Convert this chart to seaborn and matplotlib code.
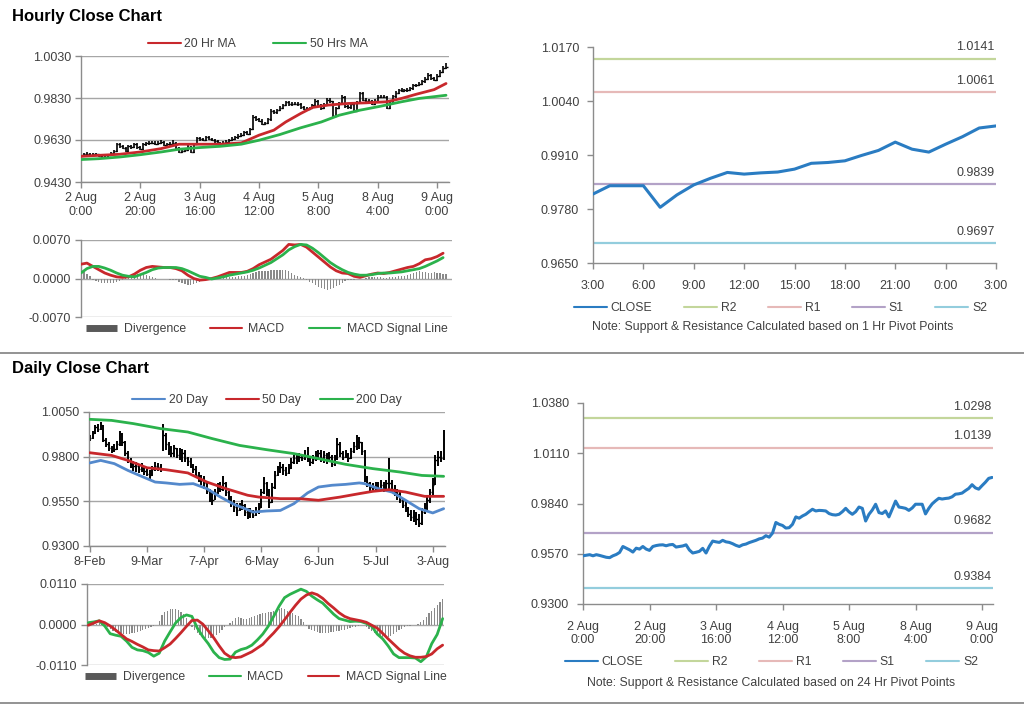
import matplotlib
matplotlib.use("Agg")
import matplotlib.pyplot as plt
import matplotlib.transforms as mtransforms
from matplotlib.lines import Line2D
from matplotlib.ticker import FormatStrFormatter
import seaborn as sns
import numpy as np

# ---------------- data ----------------
# hourly closes, 2 Aug 0:00 .. 9 Aug 3:00
hourly_close = [
    0.9559, 0.9562, 0.9565, 0.9559, 0.9565, 0.9561, 0.9556, 0.9551, 0.9549, 0.9559,
    0.9566, 0.9577, 0.9609, 0.9600, 0.9591, 0.9579, 0.9600, 0.9595, 0.9609, 0.9595,
    0.9588, 0.9609, 0.9614, 0.9617, 0.9618, 0.9613, 0.9618, 0.9620, 0.9606, 0.9609,
    0.9612, 0.9618, 0.9590, 0.9574, 0.9578, 0.9583, 0.9599, 0.9574, 0.9610, 0.9638,
    0.9634, 0.9631, 0.9642, 0.9634, 0.9631, 0.9624, 0.9615, 0.9609, 0.9618, 0.9622,
    0.9630, 0.9636, 0.9642, 0.9650, 0.9654, 0.9667, 0.9659, 0.9681, 0.9738, 0.9728,
    0.9722, 0.9708, 0.9710, 0.9728, 0.9768, 0.9761, 0.9773, 0.9782, 0.9796, 0.9809,
    0.9800, 0.9803, 0.9802, 0.9800, 0.9786, 0.9780, 0.9778, 0.9782, 0.9796, 0.9814,
    0.9795, 0.9782, 0.9796, 0.9821, 0.9814, 0.9746, 0.9782, 0.9805, 0.9836, 0.9791,
    0.9786, 0.9800, 0.9768, 0.9810, 0.9853, 0.9821, 0.9818, 0.9814, 0.9803, 0.9816,
    0.9836, 0.9836, 0.9836, 0.9784, 0.9814, 0.9838, 0.9854, 0.9868, 0.9864, 0.9867,
    0.9869, 0.9876, 0.9890, 0.9892, 0.9896, 0.9909, 0.9921, 0.9941, 0.9924, 0.9917,
    0.9936, 0.9954, 0.9975, 0.9980]
hourly_high = [
    0.9566, 0.9568, 0.9571, 0.9569, 0.9570, 0.9569, 0.9565, 0.9561, 0.9558, 0.9564,
    0.9572, 0.9583, 0.9616, 0.9615, 0.9606, 0.9597, 0.9606, 0.9607, 0.9615, 0.9614,
    0.9600, 0.9614, 0.9620, 0.9623, 0.9625, 0.9623, 0.9624, 0.9628, 0.9624, 0.9615,
    0.9619, 0.9628, 0.9622, 0.9595, 0.9586, 0.9590, 0.9605, 0.9603, 0.9617, 0.9646,
    0.9645, 0.9640, 0.9648, 0.9647, 0.9640, 0.9636, 0.9629, 0.9620, 0.9624, 0.9628,
    0.9636, 0.9643, 0.9649, 0.9657, 0.9662, 0.9674, 0.9672, 0.9688, 0.9748, 0.9746,
    0.9735, 0.9728, 0.9718, 0.9735, 0.9776, 0.9775, 0.9780, 0.9790, 0.9803, 0.9816,
    0.9815, 0.9811, 0.9810, 0.9809, 0.9805, 0.9792, 0.9786, 0.9789, 0.9803, 0.9825,
    0.9820, 0.9803, 0.9804, 0.9830, 0.9828, 0.9818, 0.9789, 0.9812, 0.9845, 0.9840,
    0.9798, 0.9808, 0.9806, 0.9817, 0.9860, 0.9857, 0.9828, 0.9825, 0.9820, 0.9823,
    0.9843, 0.9843, 0.9844, 0.9840, 0.9821, 0.9845, 0.9861, 0.9875, 0.9876, 0.9874,
    0.9876, 0.9884, 0.9898, 0.9899, 0.9904, 0.9916, 0.9928, 0.9949, 0.9946, 0.9930,
    0.9943, 0.9961, 0.9983, 0.9995]
hourly_low = [
    0.9552, 0.9553, 0.9556, 0.9553, 0.9554, 0.9555, 0.9550, 0.9546, 0.9543, 0.9545,
    0.9553, 0.9561, 0.9572, 0.9593, 0.9585, 0.9573, 0.9574, 0.9589, 0.9590, 0.9589,
    0.9582, 0.9583, 0.9603, 0.9608, 0.9610, 0.9607, 0.9608, 0.9612, 0.9600, 0.9600,
    0.9603, 0.9606, 0.9584, 0.9568, 0.9568, 0.9572, 0.9578, 0.9566, 0.9570, 0.9605,
    0.9627, 0.9624, 0.9625, 0.9628, 0.9625, 0.9618, 0.9609, 0.9603, 0.9604, 0.9612,
    0.9616, 0.9624, 0.9630, 0.9636, 0.9644, 0.9648, 0.9652, 0.9653, 0.9676, 0.9720,
    0.9714, 0.9700, 0.9700, 0.9704, 0.9722, 0.9754, 0.9755, 0.9766, 0.9776, 0.9790,
    0.9794, 0.9794, 0.9795, 0.9793, 0.9780, 0.9773, 0.9771, 0.9772, 0.9776, 0.9790,
    0.9788, 0.9775, 0.9776, 0.9790, 0.9806, 0.9738, 0.9740, 0.9776, 0.9798, 0.9784,
    0.9778, 0.9780, 0.9762, 0.9762, 0.9804, 0.9814, 0.9811, 0.9807, 0.9796, 0.9797,
    0.9810, 0.9829, 0.9828, 0.9776, 0.9778, 0.9808, 0.9832, 0.9848, 0.9857, 0.9858,
    0.9860, 0.9862, 0.9870, 0.9883, 0.9885, 0.9890, 0.9902, 0.9915, 0.9917, 0.9910,
    0.9911, 0.9930, 0.9948, 0.9970]
hourly_ticks = ['2 Aug\n0:00', '2 Aug\n20:00', '3 Aug\n16:00', '4 Aug\n12:00',
                '5 Aug\n8:00', '8 Aug\n4:00', '9 Aug\n0:00']

ma20_hx = [0, 6, 13, 20, 27, 33, 40, 47, 54, 60, 65, 69, 74, 78, 83, 90, 96, 103, 108, 113, 119, 123]
ma20_hy = [0.9552, 0.9557, 0.9562, 0.9573, 0.9589, 0.9610, 0.9610, 0.9610, 0.9616, 0.9653, 0.9677,
           0.9716, 0.9756, 0.9785, 0.9796, 0.9804, 0.9807, 0.9812, 0.9828, 0.9848, 0.9870, 0.9899]
ma50_hx = [0, 6, 13, 20, 27, 33, 40, 47, 54, 60, 67, 74, 81, 87, 94, 101, 108, 114, 123]
ma50_hy = [0.9537, 0.9541, 0.9549, 0.9560, 0.9573, 0.9586, 0.9594, 0.9600, 0.9610, 0.9629,
           0.9656, 0.9688, 0.9716, 0.9748, 0.9772, 0.9791, 0.9812, 0.9828, 0.9843]

# hourly MACD / signal every 2 hours
hourly_macd = [
    0.0026, 0.0028, 0.0022, 0.0016, 0.0010, 0.0006, 0.0003, 0.0002, 0.0003, 0.0008,
    0.0015, 0.0020, 0.0022, 0.0021, 0.0020, 0.0020, 0.0018, 0.0014, 0.0006, 0.0000,
    -0.0003, -0.0002, 0.0000, 0.0003, 0.0007, 0.0011, 0.0011, 0.0011, 0.0013, 0.0018,
    0.0025, 0.0030, 0.0035, 0.0043, 0.0051, 0.0062, 0.0061, 0.0062, 0.0057, 0.0048,
    0.0039, 0.0030, 0.0021, 0.0014, 0.0010, 0.0009, 0.0004, 0.0002, 0.0005, 0.0008,
    0.0010, 0.0009, 0.0011, 0.0014, 0.0017, 0.0020, 0.0022, 0.0027, 0.0034, 0.0036,
    0.0040, 0.0046]
hourly_signal = [
    0.0010, 0.0018, 0.0022, 0.0022, 0.0019, 0.0015, 0.0010, 0.0006, 0.0004, 0.0003,
    0.0007, 0.0011, 0.0016, 0.0019, 0.0020, 0.0020, 0.0020, 0.0018, 0.0014, 0.0009,
    0.0004, 0.0002, -0.0001, 0.0001, 0.0003, 0.0006, 0.0008, 0.0010, 0.0012, 0.0015,
    0.0019, 0.0024, 0.0029, 0.0036, 0.0043, 0.0052, 0.0058, 0.0062, 0.0061, 0.0055,
    0.0047, 0.0038, 0.0029, 0.0022, 0.0016, 0.0011, 0.0008, 0.0006, 0.0006, 0.0007,
    0.0009, 0.0010, 0.0010, 0.0011, 0.0012, 0.0014, 0.0016, 0.0018, 0.0022, 0.0027,
    0.0032, 0.0038]
hourly_div = [
    0.0010, 0.0012, 0.0008, 0.0004,
    -0.0002, -0.0004, -0.0006, -0.0008, -0.0009, -0.0009, -0.0009, -0.0008, -0.0006, -0.0004, -0.0002,
    0.0001, 0.0003, 0.0005, 0.0007, 0.0008, 0.0009, 0.0008, 0.0007, 0.0005, 0.0002,
    0.0001, 0.0000, -0.0001, -0.0001, -0.0001, -0.0002, -0.0002, -0.0003,
    -0.0006, -0.0008, -0.0010, -0.0011, -0.0011, -0.0010, -0.0009, -0.0006, -0.0003,
    -0.0001, 0.0000, 0.0001, 0.0002, 0.0003, 0.0003, 0.0004, 0.0003, 0.0003,
    0.0002, 0.0003, 0.0004, 0.0005, 0.0004, 0.0006, 0.0008, 0.0010,
    0.0012, 0.0013, 0.0014, 0.0014, 0.0014, 0.0015, 0.0015, 0.0015, 0.0016, 0.0016, 0.0015, 0.0013, 0.0010,
    0.0006, 0.0004, 0.0002, 0.0001,
    -0.0003, -0.0006, -0.0009, -0.0012, -0.0015, -0.0017, -0.0019, -0.0020, -0.0019, -0.0017,
    -0.0014, -0.0011, -0.0008, -0.0005, -0.0003,
    -0.0002, -0.0002, -0.0001, -0.0001, 0.0000, 0.0001,
    0.0002, 0.0003, 0.0002, 0.0003, 0.0002, 0.0001, 0.0001, 0.0002, 0.0002, 0.0003, 0.0004, 0.0004, 0.0005,
    0.0006, 0.0008, 0.0010, 0.0012, 0.0013, 0.0012, 0.0011, 0.0010, 0.0010, 0.0011, 0.0010, 0.0010,
    0.0009, 0.0009]

last24_ticks = ['3:00', '6:00', '9:00', '12:00', '15:00', '18:00', '21:00', '0:00', '3:00']
pivots_1h = [('R2', 1.0141), ('R1', 1.0061), ('S1', 0.9839), ('S2', 0.9697)]
pivots_24h = [('R2', 1.0298), ('R1', 1.0139), ('S1', 0.9682), ('S2', 0.9384)]

# daily bars, 8 Feb .. 9 Aug
daily_close = [
    0.9905, 0.9930, 0.9965, 0.9955, 0.9980, 0.9895, 0.9870, 0.9850, 0.9840, 0.9845,
    0.9870, 0.9925, 0.9880, 0.9820, 0.9780, 0.9760, 0.9750, 0.9745, 0.9730, 0.9740,
    0.9720, 0.9705, 0.9695, 0.9730, 0.9750, 0.9740, 0.9730, 0.9920, 0.9870, 0.9840,
    0.9820, 0.9850, 0.9810, 0.9835, 0.9820, 0.9790, 0.9775, 0.9745, 0.9730, 0.9700,
    0.9680, 0.9670, 0.9650, 0.9610, 0.9570, 0.9560, 0.9600, 0.9630, 0.9620, 0.9650,
    0.9600, 0.9570, 0.9540, 0.9520, 0.9500, 0.9515, 0.9530, 0.9490, 0.9470, 0.9490,
    0.9475, 0.9495, 0.9510, 0.9600, 0.9650, 0.9610, 0.9545, 0.9630, 0.9700, 0.9720,
    0.9740, 0.9725, 0.9710, 0.9735, 0.9770, 0.9790, 0.9780, 0.9800, 0.9795, 0.9805,
    0.9790, 0.9770, 0.9785, 0.9800, 0.9820, 0.9790, 0.9810, 0.9780, 0.9800, 0.9760,
    0.9790, 0.9870, 0.9820, 0.9800, 0.9810, 0.9790, 0.9830, 0.9860, 0.9890, 0.9880,
    0.9830, 0.9680, 0.9650, 0.9630, 0.9625, 0.9640, 0.9625, 0.9640, 0.9620, 0.9650,
    0.9650, 0.9620, 0.9600, 0.9590, 0.9560, 0.9530, 0.9510, 0.9480, 0.9460, 0.9470,
    0.9450, 0.9430, 0.9490, 0.9510, 0.9560, 0.9600, 0.9640, 0.9780, 0.9800, 0.9790,
    0.9900]
daily_high = [
    0.9920, 0.9945, 0.9975, 0.9985, 0.9992, 0.9975, 0.9905, 0.9880, 0.9860, 0.9870,
    0.9885, 0.9945, 0.9930, 0.9890, 0.9830, 0.9790, 0.9775, 0.9770, 0.9760, 0.9765,
    0.9750, 0.9740, 0.9725, 0.9750, 0.9770, 0.9765, 0.9760, 0.9985, 0.9930, 0.9880,
    0.9860, 0.9865, 0.9850, 0.9850, 0.9845, 0.9840, 0.9800, 0.9790, 0.9760, 0.9745,
    0.9715, 0.9700, 0.9690, 0.9660, 0.9620, 0.9600, 0.9620, 0.9650, 0.9660, 0.9690,
    0.9660, 0.9610, 0.9580, 0.9560, 0.9540, 0.9540, 0.9560, 0.9535, 0.9510, 0.9515,
    0.9500, 0.9520, 0.9540, 0.9620, 0.9685, 0.9660, 0.9620, 0.9650, 0.9720, 0.9750,
    0.9770, 0.9760, 0.9740, 0.9760, 0.9790, 0.9810, 0.9815, 0.9820, 0.9815, 0.9835,
    0.9855, 0.9800, 0.9810, 0.9830, 0.9840, 0.9835, 0.9830, 0.9820, 0.9825, 0.9810,
    0.9810, 0.9905, 0.9880, 0.9830, 0.9840, 0.9820, 0.9850, 0.9880, 0.9920, 0.9910,
    0.9880, 0.9840, 0.9690, 0.9660, 0.9650, 0.9660, 0.9660, 0.9670, 0.9660, 0.9670,
    0.9790, 0.9670, 0.9640, 0.9620, 0.9600, 0.9570, 0.9550, 0.9520, 0.9500, 0.9500,
    0.9490, 0.9480, 0.9510, 0.9540, 0.9580, 0.9620, 0.9680, 0.9810, 0.9830, 0.9830,
    0.9948]
daily_low = [
    0.9885, 0.9900, 0.9925, 0.9940, 0.9950, 0.9880, 0.9855, 0.9830, 0.9820, 0.9828,
    0.9835, 0.9860, 0.9860, 0.9805, 0.9765, 0.9735, 0.9720, 0.9715, 0.9710, 0.9715,
    0.9700, 0.9690, 0.9675, 0.9690, 0.9720, 0.9720, 0.9715, 0.9830, 0.9840, 0.9810,
    0.9800, 0.9800, 0.9790, 0.9780, 0.9770, 0.9770, 0.9745, 0.9735, 0.9710, 0.9690,
    0.9660, 0.9640, 0.9620, 0.9590, 0.9545, 0.9530, 0.9555, 0.9590, 0.9600, 0.9610,
    0.9580, 0.9550, 0.9520, 0.9490, 0.9470, 0.9495, 0.9500, 0.9470, 0.9450, 0.9455,
    0.9455, 0.9470, 0.9480, 0.9510, 0.9590, 0.9580, 0.9515, 0.9540, 0.9620, 0.9690,
    0.9710, 0.9700, 0.9690, 0.9705, 0.9730, 0.9760, 0.9760, 0.9770, 0.9775, 0.9780,
    0.9770, 0.9750, 0.9760, 0.9775, 0.9780, 0.9770, 0.9765, 0.9760, 0.9770, 0.9740,
    0.9750, 0.9780, 0.9800, 0.9780, 0.9790, 0.9770, 0.9785, 0.9820, 0.9840, 0.9845,
    0.9810, 0.9660, 0.9630, 0.9610, 0.9605, 0.9615, 0.9605, 0.9610, 0.9600, 0.9610,
    0.9620, 0.9600, 0.9580, 0.9560, 0.9540, 0.9510, 0.9490, 0.9460, 0.9440, 0.9435,
    0.9420, 0.9405, 0.9420, 0.9480, 0.9500, 0.9540, 0.9580, 0.9640, 0.9750, 0.9770,
    0.9780]
daily_ticks = ['8-Feb', '9-Mar', '7-Apr', '6-May', '6-Jun', '5-Jul', '3-Aug']

ma20_dx = [0, 4, 9, 14, 19, 24, 28, 33, 38, 43, 48, 53, 58, 60, 65, 70, 75, 80, 84, 89,
           94, 99, 101, 106, 111, 116, 121, 126, 130]
ma20_dy = [0.9765, 0.9779, 0.9761, 0.9723, 0.9690, 0.9658, 0.9653, 0.9645, 0.9649, 0.9621,
           0.9574, 0.9533, 0.9503, 0.9490, 0.9496, 0.9499, 0.9537, 0.9597, 0.9630, 0.9640,
           0.9645, 0.9653, 0.9649, 0.9621, 0.9602, 0.9556, 0.9509, 0.9485, 0.9509]
ma50_dx = [0, 8, 14, 21, 28, 36, 43, 50, 58, 62, 70, 77, 84, 92, 99, 104, 110, 116, 123, 130]
ma50_dy = [0.9822, 0.9807, 0.9779, 0.9738, 0.9727, 0.9709, 0.9658, 0.9621, 0.9584, 0.9574,
           0.9565, 0.9565, 0.9556, 0.9574, 0.9593, 0.9606, 0.9615, 0.9602, 0.9578, 0.9578]
ma200_dx = [0, 8, 16, 26, 36, 45, 55, 65, 75, 84, 94, 104, 114, 122, 130]
ma200_dy = [1.0009, 1.0003, 0.9985, 0.9957, 0.9938, 0.9901, 0.9863, 0.9839, 0.9817, 0.9789,
            0.9757, 0.9733, 0.9714, 0.9695, 0.9690]

# daily MACD / signal every 2 days
daily_macd = [
    0.0005, 0.0007, 0.0010, -0.0004, -0.0025, -0.0029, -0.0032, -0.0045, -0.0062, -0.0069,
    -0.0071, -0.0076, -0.0086, -0.0078, -0.0045, -0.0020, 0.0004, 0.0019, 0.0026, 0.0022,
    -0.0010, -0.0033, -0.0052, -0.0075, -0.0090, -0.0095, -0.0094, -0.0075, -0.0068, -0.0064,
    -0.0056, -0.0042, -0.0026, -0.0005, 0.0022, 0.0050, 0.0073, 0.0082, 0.0089, 0.0096,
    0.0090, 0.0077, 0.0067, 0.0058, 0.0043, 0.0028, 0.0016, 0.0012, 0.0008, 0.0009,
    0.0008, 0.0003, -0.0005, -0.0026, -0.0039, -0.0058, -0.0080, -0.0090, -0.0090, -0.0090,
    -0.0091, -0.0101, -0.0088, -0.0052, -0.0027, 0.0016]
daily_signal = [
    -0.0002, 0.0004, 0.0010, 0.0005, -0.0004, -0.0015, -0.0027, -0.0039, -0.0046, -0.0054,
    -0.0061, -0.0069, -0.0071, -0.0072, -0.0063, -0.0053, -0.0038, -0.0022, -0.0005, 0.0011,
    0.0012, 0.0001, -0.0017, -0.0036, -0.0058, -0.0078, -0.0088, -0.0090, -0.0088, -0.0081,
    -0.0074, -0.0064, -0.0054, -0.0038, -0.0023, -0.0006, 0.0013, 0.0033, 0.0052, 0.0069,
    0.0080, 0.0086, 0.0081, 0.0071, 0.0057, 0.0045, 0.0032, 0.0022, 0.0016, 0.0013,
    0.0010, 0.0006, -0.0002, -0.0010, -0.0024, -0.0039, -0.0053, -0.0067, -0.0078, -0.0085,
    -0.0089, -0.0089, -0.0087, -0.0080, -0.0066, -0.0056]
daily_div = [
    0.0000, 0.0001, 0.0001,
    0.0002, 0.0003, 0.0002, 0.0000,
    -0.0006, -0.0012, -0.0017, -0.0020, -0.0022, -0.0024, -0.0025, -0.0026, -0.0025,
    -0.0024, -0.0022, -0.0020, -0.0018, -0.0015, -0.0012, -0.0010, -0.0007, -0.0005,
    -0.0002,
    0.0010, 0.0025, 0.0033, 0.0038, 0.0042, 0.0043, 0.0042, 0.0040, 0.0035, 0.0028, 0.0018,
    0.0006,
    -0.0008, -0.0015, -0.0022, -0.0028, -0.0032, -0.0036, -0.0038, -0.0037, -0.0033,
    -0.0028, -0.0022, -0.0015, -0.0008,
    -0.0002, 0.0003,
    0.0010, 0.0018, 0.0020, 0.0018, 0.0016, 0.0015, 0.0017, 0.0020, 0.0022,
    0.0025, 0.0028, 0.0030, 0.0032, 0.0033, 0.0035, 0.0037, 0.0040, 0.0043, 0.0045, 0.0043, 0.0038,
    0.0033, 0.0030, 0.0027, 0.0022, 0.0015, 0.0008,
    -0.0005, -0.0012, -0.0016, -0.0019, -0.0021, -0.0022, -0.0023, -0.0023, -0.0022, -0.0021,
    -0.0020, -0.0019, -0.0017, -0.0016, -0.0014, -0.0012, -0.0010, -0.0008, -0.0006, -0.0004,
    -0.0002, 0.0000,
    -0.0006, -0.0012, -0.0017, -0.0022, -0.0026, -0.0030, -0.0033, -0.0035, -0.0034, -0.0030,
    -0.0025, -0.0020,
    -0.0015, -0.0011, -0.0008, -0.0005, -0.0003, -0.0002, 0.0000, 0.0002,
    0.0006, 0.0012, 0.0020, 0.0030, 0.0038, 0.0045, 0.0052, 0.0060, 0.0070]

# ---------------- style ----------------
RED = '#c8282c'
GREEN = '#2bb24c'
BLUE20 = '#5489cc'
CLOSE_BLUE = '#2a7cc2'
PIV_COL = {'R2': '#c3d69b', 'R1': '#e6b9b8', 'S1': '#b3a2c7', 'S2': '#93cddd'}
AX_GRAY = '#8c8c8c'
GRID = '#a6a6a6'
TXT = '#404040'
DIV_GRAY = '#8a8a8a'
FS = 9      # tick labels
LFS = 8.8   # legends / notes

sns.set_theme(style="white")
plt.rcParams['font.family'] = ['Liberation Sans', 'DejaVu Sans']

W, H = 1024, 706
fig = plt.figure(figsize=(W / 100, H / 100), dpi=100)


def px_axes(left, top, right, bottom):
    return fig.add_axes([left / W, 1 - bottom / H, (right - left) / W, (bottom - top) / H])


def style(ax, grid=True, xpad=3, ypad=3):
    for s in ['top', 'right']:
        ax.spines[s].set_visible(False)
    for s in ['left', 'bottom']:
        ax.spines[s].set_color(AX_GRAY)
        ax.spines[s].set_linewidth(1)
    ax.tick_params(axis='both', which='both', left=True, bottom=True, colors=AX_GRAY,
                   labelcolor=TXT, labelsize=FS, length=4, width=1, direction='out')
    ax.tick_params(axis='x', pad=xpad)
    ax.tick_params(axis='y', pad=ypad)
    ax.yaxis.set_major_formatter(FormatStrFormatter('%.4f'))
    if grid:
        ax.yaxis.grid(True, color=GRID, lw=1)
        ax.set_axisbelow(True)
    else:
        ax.grid(False)
    ax.set_xlabel('')
    ax.set_ylabel('')


def draw_bars(ax, x, lo, hi, close, opn=None, lw=1.4):
    x = np.asarray(x)
    ax.vlines(x, lo, hi, color='black', lw=lw, zorder=2)
    ax.hlines(close, x, x + 0.5, color='black', lw=1, zorder=2)
    if opn is not None:
        ax.hlines(opn, x - 0.5, x, color='black', lw=1, zorder=2)


def macd_panel(ax, div, xs, macd, signal, macd_col, sig_col, lim):
    ax.bar(np.arange(len(div)), div, width=0.45, color=DIV_GRAY, linewidth=0, zorder=1)
    sns.lineplot(x=xs, y=macd, ax=ax, color=macd_col, lw=2, zorder=3)
    sns.lineplot(x=xs, y=signal, ax=ax, color=sig_col, lw=2, zorder=3)
    ax.set_ylim(-lim, lim)
    ax.set_yticks([-lim, 0, lim])
    style(ax)
    ax.spines['bottom'].set_visible(False)
    ax.set_xticks([])
    handles = [Line2D([], [], color='#595959', lw=5, solid_capstyle='butt'),
               Line2D([], [], color=macd_col, lw=1.5),
               Line2D([], [], color=sig_col, lw=1.5)]
    ax.legend(handles, ['Divergence', 'MACD', 'MACD Signal Line'], loc='upper center',
              bbox_to_anchor=(0.5, 0.0), ncol=3, frameon=False, fontsize=LFS,
              handlelength=2.6, handletextpad=0.5, columnspacing=2.0,
              borderaxespad=0.1, labelcolor=TXT)


def pivot_panel(ax, x, y, pivots, ticks, tick_labels, ylim, step, legend_x, legend_y):
    sns.lineplot(x=x, y=y, ax=ax, color=CLOSE_BLUE, lw=2.2, zorder=3)
    trans = mtransforms.blended_transform_factory(ax.transAxes, ax.transData)
    for name, val in pivots:
        ax.axhline(val, color=PIV_COL[name], lw=1.6, zorder=2)
        ax.annotate(f'{val:.4f}', xy=(1, val), xycoords=trans, xytext=(-1, 4),
                    textcoords='offset points', ha='right', va='bottom',
                    fontsize=FS, color=TXT)
    ax.set_ylim(*ylim)
    ax.set_yticks(np.arange(ylim[0], ylim[1] + step / 2, step))
    ax.set_xticks(ticks)
    ax.set_xticklabels(tick_labels)
    style(ax, grid=False, xpad=8, ypad=6)
    handles = [Line2D([], [], color=CLOSE_BLUE, lw=1.5)] + \
              [Line2D([], [], color=PIV_COL[n], lw=1.5) for n, _ in pivots]
    ax.legend(handles, ['CLOSE'] + [n for n, _ in pivots], loc='center',
              bbox_to_anchor=(legend_x, legend_y), ncol=5, frameon=False, fontsize=LFS,
              handlelength=2.7, handletextpad=0.3, columnspacing=2.6, labelcolor=TXT)


# ---------------- hourly price ----------------
ax1 = px_axes(81, 56, 449, 182)
hx = np.arange(len(hourly_close))
h_open = [hourly_close[0]] + hourly_close[:-1]
draw_bars(ax1, hx, hourly_low, hourly_high, hourly_close, opn=h_open, lw=1.2)
sns.lineplot(x=ma20_hx, y=ma20_hy, ax=ax1, color=RED, lw=2, zorder=3)
sns.lineplot(x=ma50_hx, y=ma50_hy, ax=ax1, color=GREEN, lw=2, zorder=3)
ax1.set_xlim(0, 124)
ax1.set_ylim(0.9430, 1.0030)
ax1.set_yticks([0.9430, 0.9630, 0.9830, 1.0030])
ax1.set_xticks(range(0, 121, 20))
ax1.set_xticklabels(hourly_ticks)
style(ax1)
ax1.legend([Line2D([], [], color=RED, lw=1.5), Line2D([], [], color=GREEN, lw=1.5)],
           ['20 Hr MA', '50 Hrs MA'], loc='lower center', bbox_to_anchor=(0.48, 1.0),
           ncol=2, frameon=False, fontsize=LFS, handlelength=2.7, handletextpad=0.3,
           columnspacing=3.0, borderaxespad=0.1, labelcolor=TXT)

# ---------------- hourly MACD ----------------
ax2 = px_axes(81, 240, 452, 317)
macd_panel(ax2, hourly_div, list(range(0, 124, 2)), hourly_macd, hourly_signal, RED, GREEN, 0.007)
ax2.set_xlim(0, 125)

# ---------------- last 24 hours ----------------
ax3 = px_axes(593, 47, 996, 263)
pivot_panel(ax3, list(range(25)), hourly_close[99:], pivots_1h, list(range(0, 25, 3)),
            last24_ticks, (0.9650, 1.0170), 0.013, 0.465, -0.21)
ax3.set_xlim(0, 24)
fig.text(773 / W, 1 - 327 / H, 'Note: Support & Resistance Calculated based on 1 Hr Pivot Points',
         ha='center', va='center', fontsize=LFS, color=TXT)

# ---------------- daily price ----------------
ax4 = px_axes(89, 412, 445, 546)
dx = np.arange(len(daily_close))
draw_bars(ax4, dx, daily_low, daily_high, daily_close)
sns.lineplot(x=ma20_dx, y=ma20_dy, ax=ax4, color=BLUE20, lw=2, zorder=3)
sns.lineplot(x=ma50_dx, y=ma50_dy, ax=ax4, color=RED, lw=2, zorder=3)
sns.lineplot(x=ma200_dx, y=ma200_dy, ax=ax4, color=GREEN, lw=2, zorder=3)
ax4.set_xlim(-0.3, 130.5)
ax4.set_ylim(0.9300, 1.0050)
ax4.set_yticks([0.9300, 0.9550, 0.9800, 1.0050])
ax4.set_xticks(range(0, 127, 21))
ax4.set_xticklabels(daily_ticks)
style(ax4)
ax4.legend([Line2D([], [], color=c, lw=1.5) for c in (BLUE20, RED, GREEN)],
           ['20 Day', '50 Day', '200 Day'], loc='lower center', bbox_to_anchor=(0.5, 1.0),
           ncol=3, frameon=False, fontsize=LFS, handlelength=2.7, handletextpad=0.3,
           columnspacing=1.5, borderaxespad=0.1, labelcolor=TXT)

# ---------------- daily MACD ----------------
ax5 = px_axes(87, 584, 444, 665)
macd_panel(ax5, daily_div, list(range(0, 131, 2)), daily_macd, daily_signal, GREEN, RED, 0.011)
ax5.set_xlim(-0.5, 130.5)

# ---------------- 24h pivot chart ----------------
ax6 = px_axes(583, 403, 993, 604)
pivot_panel(ax6, list(hx), hourly_close, pivots_24h, list(range(0, 121, 20)),
            hourly_ticks, (0.9300, 1.0380), 0.027, 0.46, -0.29)
ax6.set_xlim(0, 123.3)
fig.text(771 / W, 1 - 683 / H, 'Note: Support & Resistance Calculated based on 24 Hr Pivot Points',
         ha='center', va='center', fontsize=LFS, color=TXT)

# ---------------- titles & separators ----------------
fig.text(12 / W, 1 - 16 / H, 'Hourly Close Chart', fontsize=12, fontweight='bold',
         va='center', ha='left', color='black')
fig.text(12 / W, 1 - 369 / H, 'Daily Close Chart', fontsize=12, fontweight='bold',
         va='center', ha='left', color='black')
fig.add_artist(Line2D([0, 1], [1 - 353 / H] * 2, color='#808080', lw=1.2))
fig.add_artist(Line2D([0, 1], [1 - 703 / H] * 2, color='#808080', lw=1.2))

fig.savefig('out.png', dpi=100)
